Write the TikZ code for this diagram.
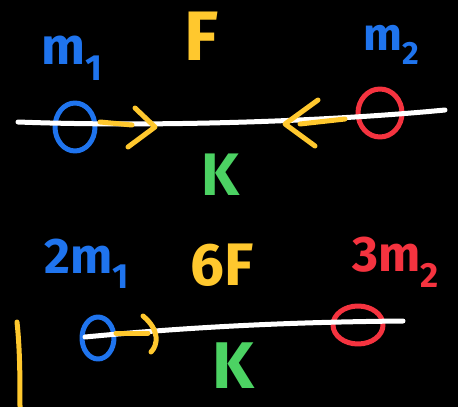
\documentclass[tikz,border=0pt]{standalone}
\usepackage{fontspec}
\setmainfont{Fira Sans}
\definecolor{hblue}{HTML}{1F74EE}
\definecolor{hyellow}{HTML}{FFC82E}
\definecolor{hred}{HTML}{F5333F}
\definecolor{hgreen}{HTML}{4CD263}
\newcommand{\fs}[1]{\fontsize{#1}{#1}\selectfont}
\begin{document}
\begin{tikzpicture}[x=1pt,y=-1pt,
  stroke/.style={line width=5pt, line cap=round, line join=round},
  lbl/.style={inner sep=0pt, anchor=center, font=\bfseries}]
\fill[black] (0,0) rectangle (458,407);
\useasboundingbox (0,0) rectangle (458,407);
% top row
\draw[stroke,hblue] (75,127) ellipse [x radius=20, y radius=24];
\draw[stroke,hred] (380,113) ellipse [x radius=22, y radius=24];
\draw[stroke,white] (18,122) .. controls (150,127) and (320,122) .. (445,110);
\draw[stroke,hyellow] (100,122) -- (132,125);
\draw[stroke,hyellow] (135,108) -- (155,127) -- (128,147);
\draw[stroke,hyellow] (300,124) -- (345,119);
\draw[stroke,hyellow] (318,100) -- (285,124) -- (315,146);
\node[lbl,text=hblue] (m1) at (72,58) {\fs{52}m\textsubscript{1}};
\node[lbl,text=hyellow] (F) at (202,36) {\fs{70}F};
\node[lbl,text=hblue] (m2) at (392,45) {\fs{46}m\textsubscript{2}};
\node[lbl,text=hgreen] (k1) at (220,175) {\fs{60}K};
% bottom row
\draw[stroke,hblue] (98,338) ellipse [x radius=16, y radius=21];
\draw[stroke,hred] (358,325) ellipse [x radius=25, y radius=19];
\draw[stroke,white] (85,337) .. controls (200,326) and (300,322) .. (403,321);
\draw[stroke,hyellow] (116,333) -- (148,333);
\draw[stroke,hyellow] (143,316) .. controls (160,330) and (158,345) .. (151,352);
\draw[stroke,hyellow] (17,322) .. controls (20,350) and (20,380) .. (20,407);
\node[lbl,text=hblue] (m1b) at (87,264) {\fs{50}2m\textsubscript{1}};
\node[lbl,text=hyellow] (F6) at (222,265) {\fs{60}6F};
\node[lbl,text=hred] (m2b) at (396,262) {\fs{50}3m\textsubscript{2}};
\node[lbl,text=hgreen] (k2) at (233,366) {\fs{66}K};
\end{tikzpicture}
\end{document}
